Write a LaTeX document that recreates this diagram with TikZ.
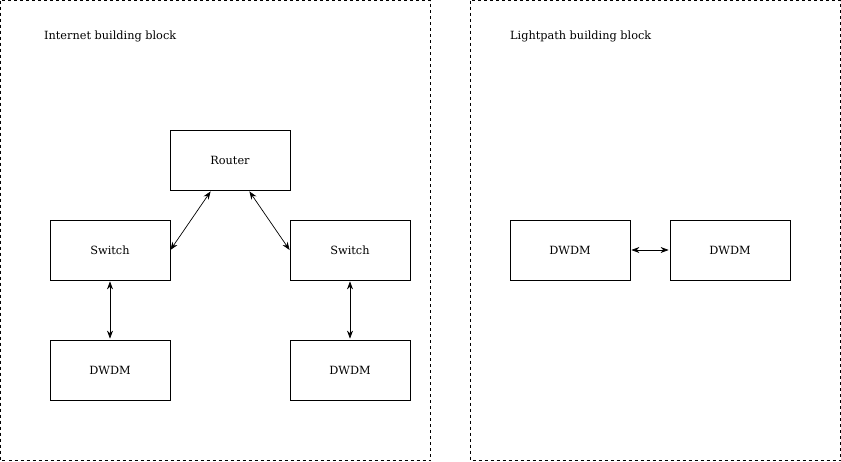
\documentclass[tikz,border=0pt]{standalone}
\usepackage{fontspec}
\setmainfont{DejaVu Serif}
\usetikzlibrary{arrows.meta}

\begin{document}
\begin{tikzpicture}[x=1pt, y=1pt, node distance=120pt,
  font=\fontsize{11.3}{13}\selectfont]
  \tikzstyle{block} = [draw, dash pattern=on 3pt off 3pt, line width=0.8pt]
  \tikzstyle{device} = [rectangle, draw, line width=0.8pt, minimum width=120pt,
                        minimum height=60pt, inner sep=0pt]
  \tikzstyle{link} = [{Stealth[length=8pt,width=6pt]}-{Stealth[length=8pt,width=6pt]}, line width=0.7pt]

\useasboundingbox (0,0) rectangle (841,-461);
% the two building blocks
\draw[block] (0.5,-0.5) rectangle (430.5,-460.5);
\draw[block] (470.5,-0.5) rectangle (840.5,-460.5);
\node[anchor=west, inner sep=0pt] (inetTitle) at (44,-36) {Internet building block};
\node[anchor=west, inner sep=0pt] (lightTitle) at (510,-36) {Lightpath building block};

% internet building block
\node[device] (router) at (230,-160) {Router};
\node[device, below of=router, xshift=-120pt, yshift=30pt] (switchL) {Switch};
\node[device, below of=router, xshift=120pt, yshift=30pt] (switchR) {Switch};
\node[device, below of=switchL] (dwdmL) {DWDM};
\node[device, below of=switchR] (dwdmR) {DWDM};

% lightpath building block
\node[device] (dwdmA) at (570,-250) {DWDM};
\node[device, right of=dwdmA, xshift=40pt] (dwdmB) {DWDM};

\draw[link] ([xshift=41pt, yshift=-1pt]router.south west) -- (switchL.east);
\draw[link] ([xshift=-41pt, yshift=-1pt]router.south east) -- (switchR.west);
\draw[link] ([yshift=-1pt]switchL.south) -- ([yshift=1pt]dwdmL.north);
\draw[link] ([yshift=-1pt]switchR.south) -- ([yshift=1pt]dwdmR.north);
\draw[link] ([xshift=1pt]dwdmA.east) -- ([xshift=-1pt]dwdmB.west);
\end{tikzpicture}
\end{document}
